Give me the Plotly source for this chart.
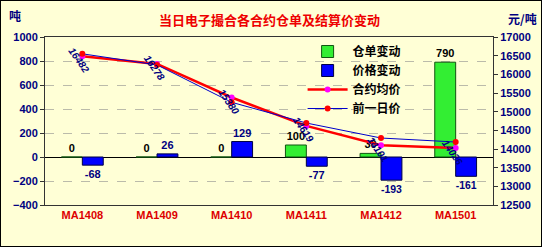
import plotly.graph_objects as go

categories = ["MA1408", "MA1409", "MA1410", "MA1411", "MA1412", "MA1501"]
warrant_change = [0, 0, 0, 100, 30, 790]
price_change = [-68, 26, 129, -77, -193, -161]
avg_price = [16482, 16278, 15380, 14619, 14101, 14026]
prev_price = [16550, 16252, 15251, 14696, 14294, 14187]

bg = "#FFFFD6"
navy = "#000080"
tfont = "Liberation Sans"

fig = go.Figure()
fig.add_trace(go.Bar(
    x=categories, y=warrant_change, name="仓单变动",
    marker=dict(color="#33EE33", line=dict(color="#115511", width=1)),
    text=[str(v) for v in warrant_change], textposition="outside",
    textfont=dict(color="black", size=11, family=tfont, weight="bold"),
    cliponaxis=False,
))
fig.add_trace(go.Bar(
    x=categories, y=price_change, name="价格变动",
    marker=dict(color="#0000FF", line=dict(color="#000044", width=1)),
    text=[str(v) for v in price_change], textposition="outside",
    textfont=dict(color=navy, size=11, family=tfont, weight="bold"),
    cliponaxis=False,
))
fig.add_trace(go.Scatter(
    x=categories, y=avg_price, name="合约均价", yaxis="y2", mode="lines+markers",
    line=dict(color="#FF0000", width=2.5),
    marker=dict(color="#FF00FF", size=6),
))
fig.add_trace(go.Scatter(
    x=categories, y=prev_price, name="前一日价", yaxis="y2", mode="lines+markers",
    line=dict(color="#0000CC", width=1),
    marker=dict(color="#FF0000", size=6),
))

annotations = []
for c, v in zip(categories, avg_price):
    annotations.append(dict(
        x=c, y=v, xref="x", yref="y2", text=f"<i><b>{v}</b></i>", showarrow=False,
        textangle=55, font=dict(color=navy, size=10, family=tfont),
        xanchor="center", yanchor="middle", xshift=-3, yshift=-4,
    ))
annotations += [
    dict(x=0.5, y=1.107, xref="paper", yref="paper", showarrow=False,
         xanchor="center", yanchor="middle",
         text="<b>当日电子撮合各合约仓单及结算价变动</b>",
         font=dict(color="#EE0000", size=13, family="Noto Sans CJK SC")),
    dict(x=-0.068, y=1.13, xref="paper", yref="paper", showarrow=False, text="<b>吨</b>",
         xanchor="center", yanchor="middle",
         font=dict(color=navy, size=12, family="Noto Sans CJK SC")),
    dict(x=1.065, y=1.11, xref="paper", yref="paper", showarrow=False, text="<b>元/吨</b>",
         xanchor="center", yanchor="middle",
         font=dict(color=navy, size=12, family="Noto Sans CJK SC")),
]

axfont = dict(color=navy, size=11, family=tfont, weight="bold")

fig.update_layout(
    width=542, height=247,
    margin=dict(l=45, r=49, t=37, b=42),
    paper_bgcolor=bg, plot_bgcolor=bg,
    barmode="group", bargap=0.44, bargroupgap=0,
    showlegend=True,
    legend=dict(x=0.575, y=1.0, xanchor="left", yanchor="top", bgcolor="rgba(0,0,0,0)",
                font=dict(size=12, color="black", family="Noto Sans CJK SC", weight="bold"),
                tracegroupgap=0, itemwidth=40, traceorder="normal"),
    xaxis=dict(showline=True, linecolor="#333", mirror=True, ticks="",
               tickfont=dict(color="#DD0000", size=11, family=tfont, weight="bold"),
               showgrid=False),
    yaxis=dict(range=[-400, 1000], dtick=200, showline=True, linecolor="#333",
               ticks="outside", ticklen=4, tickcolor="#333",
               tickfont=axfont,
               showgrid=True, gridcolor="#BBBBAA", griddash="dash", gridwidth=1,
               zeroline=True, zerolinecolor="black", zerolinewidth=1),
    yaxis2=dict(range=[12500, 17000], dtick=500, overlaying="y", side="right",
                showline=True, linecolor="#333", ticks="outside", ticklen=4, tickcolor="#333",
                tickfont=axfont,
                showgrid=False, zeroline=False, tickformat="d"),
    annotations=annotations,
    shapes=[dict(type="rect", xref="paper", yref="paper", x0=-45/448, x1=1+49/448,
                 y0=-42/168, y1=1+37/168, line=dict(color="black", width=2))],
)

fig.write_html("out.html")
